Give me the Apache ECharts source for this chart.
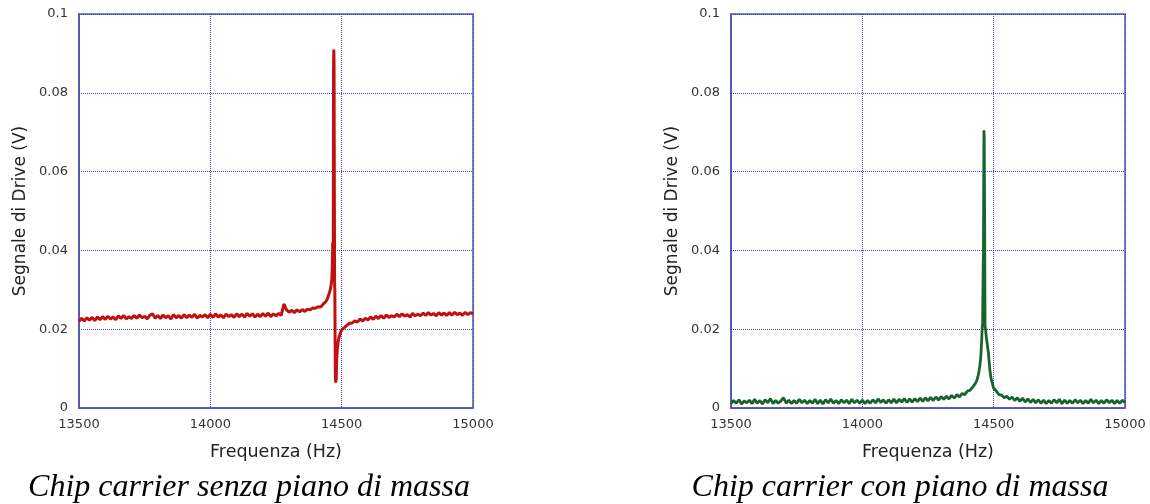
<!DOCTYPE html>
<html>
<head>
<meta charset="utf-8">
<style>
  html, body { margin: 0; padding: 0; background: #ffffff; }
  #chart { width: 1150px; height: 504px; }
</style>
<script src="https://cdn.jsdelivr.net/npm/echarts@6/dist/echarts.min.js"></script>
</head>
<body>
<div id="chart"></div>
<script>
// Drive signal vs frequency, chip carrier without ground plane (red)
const freqLeft = [
  13500,13510,13520,13530,13540,13550,13560,13570,13580,13590,
  13600,13610,13620,13630,13640,13650,13660,13670,13680,13690,
  13700,13710,13720,13730,13740,13750,13760,13770,13780,13790,
  13800,13810,13820,13830,13840,13850,13860,13870,13880,13890,
  13900,13910,13920,13930,13940,13950,13960,13970,13980,13990,
  14000,14010,14020,14030,14040,14050,14060,14070,14080,14090,
  14100,14110,14120,14130,14140,14150,14160,14170,14180,14190,
  14200,14210,14220,14230,14240,14250,14260,14270,14280,14290,
  14300,14310,14320,14330,14340,14350,14360,14370,14380,14390,
  14400,14410,14420,14430,14440,
  14446,14452,14456,14460,14463,14465,14466,14467,14468,14469,
  14470,14471,14472,14473,14474,14475,14476,14477,14478,14479,
  14481,14483,14486,14490,14495,14500,
  14510,14520,14530,14540,14550,14560,14570,14580,14590,
  14600,14610,14620,14630,14640,14650,14660,14670,14680,14690,
  14700,14710,14720,14730,14740,14750,14760,14770,14780,14790,
  14800,14810,14820,14830,14840,14850,14860,14870,14880,14890,
  14900,14910,14920,14930,14940,14950,14960,14970,14980,14990,
  15000
];
const voltLeft = [
  0.0220,0.0228,0.0221,0.0229,0.0223,0.0230,0.0222,0.0231,0.0224,0.0232,
  0.0225,0.0233,0.0226,0.0231,0.0224,0.0234,0.0227,0.0235,0.0226,0.0232,
  0.0227,0.0235,0.0228,0.0236,0.0229,0.0233,0.0226,0.0236,0.0239,0.0228,
  0.0235,0.0227,0.0236,0.0229,0.0234,0.0226,0.0237,0.0229,0.0235,0.0228,
  0.0237,0.0229,0.0236,0.0230,0.0238,0.0228,0.0235,0.0231,0.0237,0.0229,
  0.0238,0.0230,0.0239,0.0231,0.0236,0.0229,0.0238,0.0232,0.0237,0.0230,
  0.0239,0.0232,0.0238,0.0231,0.0240,0.0233,0.0239,0.0231,0.0238,0.0232,
  0.0240,0.0233,0.0241,0.0232,0.0239,0.0234,0.0240,0.0235,0.0264,0.0249,
  0.0243,0.0248,0.0242,0.0249,0.0244,0.0250,0.0245,0.0251,0.0249,0.0254,
  0.0253,0.0257,0.0256,0.0264,0.0270,
  0.0278,0.0290,0.0298,0.0312,0.0330,0.0380,0.0420,0.0360,0.0400,0.0860,
  0.0910,0.0880,0.0600,0.0320,0.0300,0.0180,0.0090,0.0064,0.0080,0.0070,
  0.0120,0.0145,0.0165,0.0180,0.0190,0.0198,
  0.0204,0.0210,0.0215,0.0216,0.0221,0.0218,0.0226,0.0221,0.0228,
  0.0223,0.0231,0.0225,0.0233,0.0227,0.0235,0.0228,0.0236,0.0230,0.0234,
  0.0231,0.0238,0.0232,0.0239,0.0233,0.0237,0.0231,0.0240,0.0234,0.0238,
  0.0234,0.0241,0.0235,0.0242,0.0236,0.0240,0.0234,0.0242,0.0236,0.0241,
  0.0235,0.0242,0.0236,0.0243,0.0237,0.0241,0.0235,0.0243,0.0237,0.0242,
  0.0239
];

// Drive signal vs frequency, chip carrier with ground plane (green)
const freqRight = [
  13500,13510,13520,13530,13540,13550,13560,13570,13580,13590,
  13600,13610,13620,13630,13640,13650,13660,13670,13680,13690,
  13700,13710,13720,13730,13740,13750,13760,13770,13780,13790,
  13800,13810,13820,13830,13840,13850,13860,13870,13880,13890,
  13900,13910,13920,13930,13940,13950,13960,13970,13980,13990,
  14000,14010,14020,14030,14040,14050,14060,14070,14080,14090,
  14100,14110,14120,14130,14140,14150,14160,14170,14180,14190,
  14200,14210,14220,14230,14240,14250,14260,14270,14280,14290,
  14300,14310,14320,14330,14340,14350,14360,14370,14380,14390,
  14400,14410,14420,
  14430,14436,14442,14447,14451,14454,14456,14458,14460,14461,
  14462,14463,14464,14465,14466,14467,14469,14472,14476,14480,
  14485,14490,14496,
  14500,14510,14520,14530,14540,14550,14560,14570,14580,14590,
  14600,14610,14620,14630,14640,14650,14660,14670,14680,14690,
  14700,14710,14720,14730,14740,14750,14760,14770,14780,14790,
  14800,14810,14820,14830,14840,14850,14860,14870,14880,14890,
  14900,14910,14920,14930,14940,14950,14960,14970,14980,14990,
  15000
];
const voltRight = [
  0.0011,0.0019,0.0012,0.0021,0.0010,0.0018,0.0013,0.0020,0.0011,0.0022,
  0.0012,0.0019,0.0010,0.0021,0.0013,0.0024,0.0011,0.0019,0.0012,0.0018,
  0.0026,0.0012,0.0020,0.0011,0.0019,0.0012,0.0022,0.0013,0.0020,0.0011,
  0.0019,0.0012,0.0022,0.0011,0.0020,0.0010,0.0021,0.0013,0.0023,0.0012,
  0.0019,0.0011,0.0021,0.0013,0.0020,0.0011,0.0022,0.0013,0.0020,0.0012,
  0.0020,0.0011,0.0019,0.0012,0.0021,0.0013,0.0023,0.0014,0.0021,0.0012,
  0.0021,0.0013,0.0023,0.0013,0.0022,0.0015,0.0024,0.0014,0.0023,0.0015,
  0.0024,0.0016,0.0025,0.0017,0.0026,0.0018,0.0027,0.0019,0.0028,0.0020,
  0.0029,0.0022,0.0030,0.0023,0.0032,0.0025,0.0034,0.0028,0.0037,0.0034,
  0.0043,0.0045,0.0053,
  0.0062,0.0070,0.0085,0.0105,0.0130,0.0165,0.0200,0.0215,0.0360,0.0380,
  0.0560,0.0705,0.0690,0.0560,0.0440,0.0210,0.0200,0.0180,0.0160,0.0140,
  0.0100,0.0075,0.0060,
  0.0050,0.0043,0.0034,0.0033,0.0026,0.0030,0.0022,0.0028,0.0019,0.0026,
  0.0017,0.0025,0.0015,0.0023,0.0014,0.0022,0.0013,0.0021,0.0012,0.0020,
  0.0011,0.0019,0.0012,0.0021,0.0013,0.0022,0.0011,0.0020,0.0012,0.0019,
  0.0012,0.0021,0.0013,0.0020,0.0011,0.0019,0.0012,0.0022,0.0013,0.0020,
  0.0011,0.0019,0.0012,0.0021,0.0013,0.0020,0.0011,0.0019,0.0012,0.0020,
  0.0013
];

const xTicks = [13500, 14000, 14500, 15000];
const xTickLabels = ['13500', '14000', '14500', '15000'];
const yTicks = [0, 0.02, 0.04, 0.06, 0.08, 0.1];
const yTickLabels = ['0', '0.02', '0.04', '0.06', '0.08', '0.1'];

const captions = ['Chip carrier senza piano di massa', 'Chip carrier con piano di massa'];
const xName = 'Frequenza (Hz)';
const yName = 'Segnale di Drive (V)';

const frameColor = '#5454aa';
const gridColor = '#3a3ac4';
const labelColor = '#333333';
const sansFont = '"DejaVu Sans", sans-serif';

function pairs(xs, ys) {
  return xs.map((x, i) => [x, ys[i]]);
}
function lookup(ticks, labels) {
  return v => {
    const i = ticks.findIndex(t => Math.abs(t - v) < 1e-9);
    return i >= 0 ? labels[i] : '';
  };
}

const grids = [
  { left: 79, top: 14, width: 394, height: 394 },
  { left: 731, top: 14, width: 394, height: 394 }
];

function xAxisFor(idx) {
  return {
    gridIndex: idx, type: 'value', min: 13500, max: 15000, interval: 500,
    name: xName, nameLocation: 'middle', nameGap: 35,
    nameTextStyle: { fontFamily: sansFont, fontSize: 17.5, color: '#222' },
    axisLine: { show: true, onZero: false, lineStyle: { color: frameColor, width: 1.5 } },
    axisTick: { show: false },
    axisLabel: { margin: 10, fontFamily: sansFont, fontSize: 13, color: labelColor,
                 formatter: lookup(xTicks, xTickLabels) },
    splitLine: { show: true, lineStyle: { color: gridColor, width: 1, type: [1, 1] } }
  };
}
function yAxisFor(idx) {
  return {
    gridIndex: idx, type: 'value', min: 0, max: 0.1, interval: 0.02,
    name: yName, nameLocation: 'middle', nameGap: 50,
    nameTextStyle: { fontFamily: sansFont, fontSize: 17, color: '#222' },
    axisLine: { show: true, lineStyle: { color: frameColor, width: 1.5 } },
    axisTick: { show: false },
    axisLabel: { margin: 11, fontFamily: sansFont, fontSize: 13, color: labelColor,
                 formatter: lookup(yTicks, yTickLabels) },
    splitLine: { show: true, lineStyle: { color: gridColor, width: 1, type: [1, 1] } }
  };
}

const captionFont = 'italic 32px "Liberation Serif", "Times New Roman", serif';

const chart = echarts.init(document.getElementById('chart'), null, { renderer: 'canvas' });
chart.setOption({
  animation: false,
  backgroundColor: '#ffffff',
  grid: grids.map(g => Object.assign({ show: true, borderColor: frameColor, borderWidth: 1.5,
                                        backgroundColor: 'transparent', containLabel: false }, g)),
  xAxis: [xAxisFor(0), xAxisFor(1)],
  yAxis: [yAxisFor(0), yAxisFor(1)],
  series: [
    { type: 'line', xAxisIndex: 0, yAxisIndex: 0, data: pairs(freqLeft, voltLeft),
      showSymbol: false, lineStyle: { color: '#c01010', width: 3 }, z: 3 },
    { type: 'line', xAxisIndex: 1, yAxisIndex: 1, data: pairs(freqRight, voltRight),
      showSymbol: false, lineStyle: { color: '#17652a', width: 2.8 }, z: 3 }
  ],
  graphic: [
    { type: 'text', x: 249, y: 488, style: { text: captions[0], fill: '#000',
      font: captionFont, align: 'center', verticalAlign: 'middle' } },
    { type: 'text', x: 900, y: 488, style: { text: captions[1], fill: '#000',
      font: captionFont, align: 'center', verticalAlign: 'middle' } }
  ]
});
</script>
</body>
</html>
